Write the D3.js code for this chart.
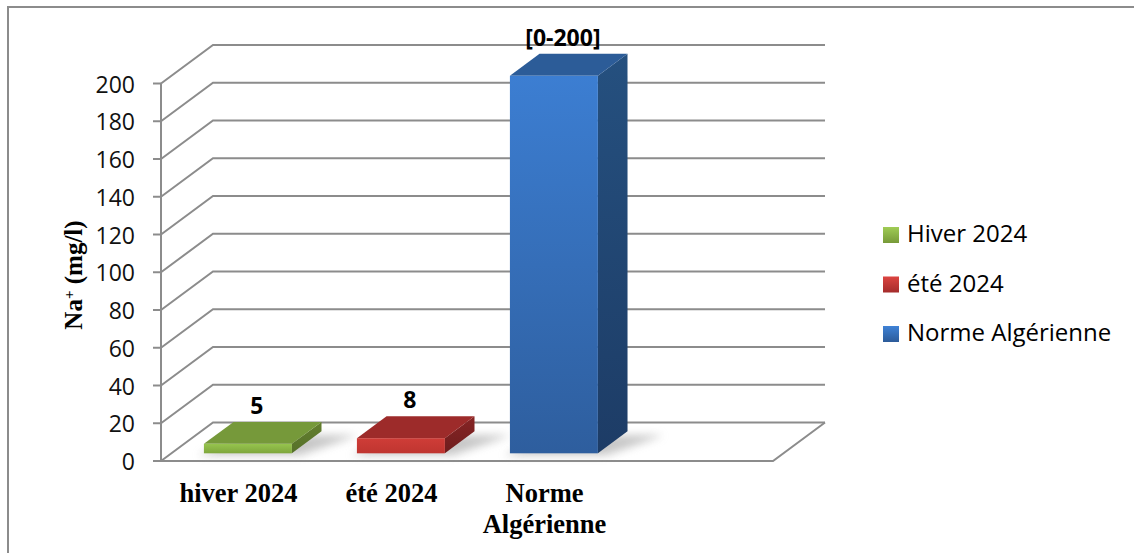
<!DOCTYPE html>
<html>
<head>
<meta charset="utf-8">
<script src="https://cdn.jsdelivr.net/npm/d3@7"></script>
<style>
  html, body { margin: 0; padding: 0; background: #fff; overflow: hidden; }
  svg { display: block; }
</style>
</head>
<body>
<svg id="chart" width="1134" height="553"></svg>
<script>
// Sodium content (mg/l) per sampling season, against the Algerian standard
const categories = ["hiver 2024", "été 2024", "Norme Algérienne"];
const categoryLines = [["hiver 2024"], ["été 2024"], ["Norme", "Algérienne"]];
const seriesNames = ["Hiver 2024", "été 2024", "Norme Algérienne"];
const values = [5, 8, 200];
const valueLabels = ["5", "8", "[0-200]"];
const yTicks = [0, 20, 40, 60, 80, 100, 120, 140, 160, 180, 200];

const svg = d3.select("#chart");

// Layout of the oblique 3D box
const floorLeft = 161, floorRight = 773;
const slots = 4;                       // three categories plus an empty trailing slot
const slotW = (floorRight - floorLeft) / slots;
const DX = 52, DY = -38.5;             // depth offset of the back wall
const depthFront = 0.2, depthBack = 0.77;
const barFrac = 0.575;

const x = d3.scaleBand()
  .domain(categories)
  .range([floorLeft, floorLeft + slotW * categories.length])
  .paddingInner(0).paddingOuter(0);
const y = d3.scaleLinear().domain([0, 200]).range([461, 83.5]);

const gridColor = "#8c8c8c";
const defs = svg.append("defs");

// Outer frame
svg.append("rect").attr("x", 8).attr("y", 7).attr("width", 1160).attr("height", 580)
  .attr("fill", "none").attr("stroke", "#8c8c8c").attr("stroke-width", 2);

// Gridlines on the side and back walls
const grid = svg.append("g");
yTicks.forEach(t => {
  const yf = y(t);
  grid.append("path")
    .attr("d", `M${floorLeft},${yf} L${floorLeft + DX},${yf + DY} L${floorRight + DX},${yf + DY}`)
    .attr("fill", "none").attr("stroke", gridColor).attr("stroke-width", 2);
});
// Floor front and right edges
grid.append("path")
  .attr("d", `M${floorLeft},${y(0)} L${floorRight},${y(0)} L${floorRight + DX},${y(0) + DY}`)
  .attr("fill", "none").attr("stroke", gridColor).attr("stroke-width", 2);

// Vertical axis with ticks
const axisG = svg.append("g");
axisG.append("line").attr("x1", floorLeft).attr("x2", floorLeft)
  .attr("y1", y(200)).attr("y2", y(0)).attr("stroke", gridColor).attr("stroke-width", 2);
axisG.selectAll(".tick").data(yTicks).join("line")
  .attr("x1", floorLeft - 8).attr("x2", floorLeft)
  .attr("y1", d => y(d)).attr("y2", d => y(d))
  .attr("stroke", gridColor).attr("stroke-width", 2);
axisG.selectAll(".tl").data(yTicks).join("text")
  .attr("x", 135).attr("y", d => y(d) + 3)
  .attr("text-anchor", "end").attr("dominant-baseline", "middle")
  .attr("font-family", "'Open Sans', sans-serif").attr("font-size", 23)
  .attr("fill", "#111").text(d => d);

// Y axis title
const yTitle = svg.append("text")
  .attr("transform", "translate(82,275) rotate(-90)")
  .attr("text-anchor", "middle")
  .attr("font-family", "'Liberation Serif', 'Times New Roman', serif")
  .attr("font-weight", "bold").attr("font-size", 25).attr("fill", "#000");
yTitle.append("tspan").text("Na");
yTitle.append("tspan").attr("baseline-shift", "super").attr("font-size", 15).text("+");
yTitle.append("tspan").text(" (mg/l)");

// Colours: front face gradient, top face, side face
const palette = [
  { front: ["#96c44e", "#7ea63c"], top: "#76993a", side: ["#647f2e", "#55702a"], legend: ["#a0cc55", "#779a38"] },
  { front: ["#cf3d38", "#bf3530"], top: "#9d2b2a", side: ["#862424", "#6e1d1d"], legend: ["#dc4440", "#a42c2b"] },
  { front: ["#3c7ed2", "#2e5e9e"], top: "#2c5c98", side: ["#25507f", "#1d3c66"], legend: ["#3f82d6", "#2c5b99"] }
];
palette.forEach((p, i) => {
  const g1 = defs.append("linearGradient").attr("id", "front" + i)
    .attr("x1", 0).attr("y1", 0).attr("x2", 0).attr("y2", 1);
  g1.append("stop").attr("offset", "0%").attr("stop-color", p.front[0]);
  g1.append("stop").attr("offset", "100%").attr("stop-color", p.front[1]);
  const g2 = defs.append("linearGradient").attr("id", "side" + i)
    .attr("x1", 0).attr("y1", 0).attr("x2", 0).attr("y2", 1);
  g2.append("stop").attr("offset", "0%").attr("stop-color", p.side[0]);
  g2.append("stop").attr("offset", "100%").attr("stop-color", p.side[1]);
  const g3 = defs.append("linearGradient").attr("id", "leg" + i)
    .attr("x1", 0).attr("y1", 0).attr("x2", 0).attr("y2", 1);
  g3.append("stop").attr("offset", "0%").attr("stop-color", p.legend[0]);
  g3.append("stop").attr("offset", "100%").attr("stop-color", p.legend[1]);
});
defs.append("filter").attr("id", "soft").attr("x", "-50%").attr("y", "-50%")
  .attr("width", "200%").attr("height", "200%")
  .append("feGaussianBlur").attr("stdDeviation", 4);

// Bar geometry from the data
const bars = categories.map((c, i) => {
  const bw = x.bandwidth() * barFrac;
  const cx = x(c) + x.bandwidth() / 2 + depthFront * DX;
  const x0 = cx - bw / 2, x1 = cx + bw / 2;
  const yb = y(0) + depthFront * DY;
  const yt = yb - (y(0) - y(values[i]));
  const dx = (depthBack - depthFront) * DX, dy = (depthBack - depthFront) * DY;
  return { i, c, x0, x1, yb, yt, dx, dy, cx };
});

// Soft floor shadows
svg.append("g").selectAll("path").data(bars).join("path")
  .attr("d", b => `M${b.x0 - 6},${b.yb + 2} L${b.x1 + 8},${b.yb + 2} L${b.x1 + b.dx + 36},${b.yb + b.dy + 4} L${b.x0 + b.dx + 10},${b.yb + b.dy + 4} Z`)
  .attr("fill", "#9a9a9a").attr("opacity", 0.55).attr("filter", "url(#soft)");

// Bars: side, top and front faces
const barG = svg.append("g").selectAll("g").data(bars).join("g");
barG.append("path")
  .attr("d", b => `M${b.x1},${b.yt} L${b.x1 + b.dx},${b.yt + b.dy} L${b.x1 + b.dx},${b.yb + b.dy} L${b.x1},${b.yb} Z`)
  .attr("fill", b => `url(#side${b.i})`);
barG.append("path")
  .attr("d", b => `M${b.x0},${b.yt} L${b.x0 + b.dx},${b.yt + b.dy} L${b.x1 + b.dx},${b.yt + b.dy} L${b.x1},${b.yt} Z`)
  .attr("fill", b => palette[b.i].top);
barG.append("rect")
  .attr("x", b => b.x0).attr("y", b => b.yt)
  .attr("width", b => b.x1 - b.x0).attr("height", b => b.yb - b.yt)
  .attr("fill", b => `url(#front${b.i})`);

// Value labels
svg.append("g").selectAll("text").data(bars).join("text")
  .attr("x", b => b.cx + 9).attr("y", b => b.yt - 30)
  .attr("text-anchor", "middle")
  .attr("font-family", "'Open Sans', sans-serif").attr("font-weight", "bold")
  .attr("font-size", 23).attr("fill", "#000")
  .text((b, i) => valueLabels[i]);

// Category labels
const catG = svg.append("g").selectAll("text").data(categories).join("text")
  .attr("x", d => x(d) + x.bandwidth() / 2 + 1)
  .attr("y", 502)
  .attr("text-anchor", "middle")
  .attr("font-family", "'Liberation Serif', 'Times New Roman', serif")
  .attr("font-weight", "bold").attr("font-size", 26.5).attr("fill", "#000");
catG.each(function (d, i) {
  const t = d3.select(this);
  categoryLines[i].forEach((line, k) => {
    t.append("tspan").attr("x", x(d) + x.bandwidth() / 2 + 1).attr("dy", k === 0 ? 0 : 31).text(line);
  });
});

// Legend
const legend = svg.append("g").selectAll("g").data(seriesNames).join("g")
  .attr("transform", (d, i) => `translate(883,${227 + i * 49.5})`);
legend.append("rect").attr("width", 16).attr("height", 16)
  .attr("fill", (d, i) => `url(#leg${i})`);
legend.append("text").attr("x", 24).attr("y", 15)
  .attr("font-family", "'Open Sans', sans-serif").attr("font-size", 24).attr("fill", "#000")
  .text(d => d);
</script>
</body>
</html>
